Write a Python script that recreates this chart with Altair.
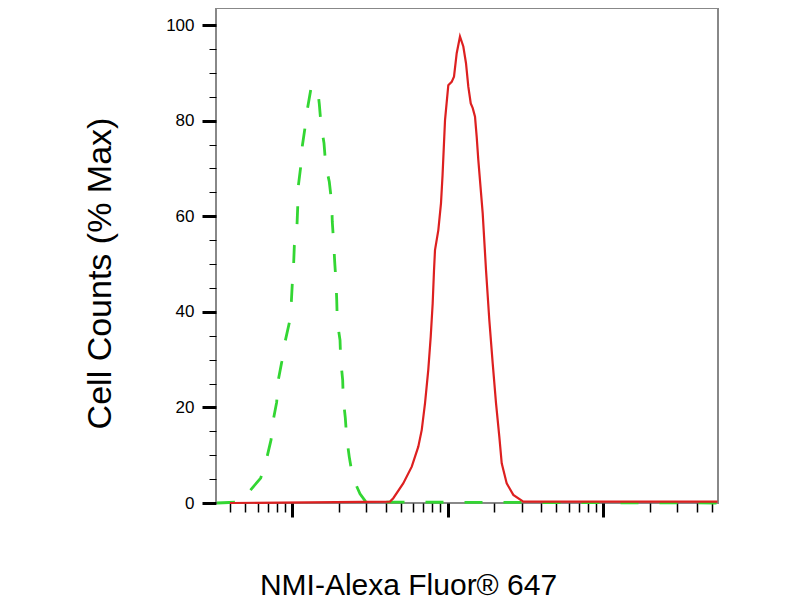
import altair as alt
import pandas as pd

# Isotype control (green dashed) - fluorescence intensity and % max
green_x = [3.29, 4.63, 5.21, 6.29, 6.88, 7.33, 7.58, 7.97, 8.16, 8.59, 9.02, 9.61, 9.90,
           10.04, 10.25, 10.35, 10.77, 10.88, 10.98, 11.37, 11.65, 12.12, 12.62, 13.19,
           13.85, 14.55, 14.98, 15.37, 16.06, 16.47, 17.37, 18.00, 18.16, 18.54, 18.82,
           19.19, 19.39, 19.56, 20.36, 20.57, 21.18, 21.37, 22.02, 22.48, 23.36, 24.57,
           27.37, 29.92, 5450]
green_y = [0, 0.2, 2.1, 5.2, 9.4, 13.2, 17.4, 21.1, 25.7, 29.5, 33.7, 37.7, 42.0,
           45.8, 50.2, 53.8, 58.2, 61.9, 66.3, 70.3, 74.7, 78.5, 82.8, 86.4,
           87.1, 87.2, 83.5, 79.1, 75.3, 70.7, 67.2, 62.8, 58.8, 54.4, 50.4,
           46.2, 42.5, 37.9, 34.1, 29.9, 25.7, 21.8, 17.8, 13.6, 9.6, 5.4,
           1.9, 0.2, 0]

# NMI stained sample (red solid)
red_x = [3.99, 42.7, 44.8, 51.9, 58.9, 64.9, 68.3, 71.7, 75.2, 78.0, 80.3, 81.9, 83.1,
         87.3, 90.8, 92.9, 96.4, 101.2, 106.4, 110.1, 114.6, 120.3, 126.4, 131.5,
         136.1, 141.1, 145.3, 150.3, 154.1, 157.8, 168.4, 176.9, 185.7, 195.3, 205.1,
         215.4, 223.2, 240.3, 265.0, 307.3, 5450]
red_y = [0, 0.3, 1.0, 4.1, 7.6, 11.8, 15.3, 20.9, 27.8, 34.8, 41.8, 48.7, 52.9,
         57.1, 62.7, 68.5, 80.1, 87.4, 88.1, 89.2, 94.1, 97.6, 95.5, 92.0,
         87.1, 83.6, 82.6, 80.8, 76.6, 71.8, 60.6, 48.7, 38.3, 29.2, 20.9,
         13.9, 8.3, 4.1, 1.7, 0.3, 0.3]

x_major = [10, 100, 1000]
x_minor = [4, 5, 6, 7, 8, 9, 20, 30, 40, 50, 60, 70, 80, 90,
           200, 300, 400, 500, 600, 700, 800, 900, 2000, 3000, 4000, 5000]
y_major = [0, 20, 40, 60, 80, 100]
y_minor = [5, 10, 15, 25, 30, 35, 45, 50, 55, 65, 70, 75, 85, 90, 95]

x_domain = [3.245, 5490]
y_domain = [0, 103.56]

green_df = pd.DataFrame({"x": green_x, "y": green_y})
red_df = pd.DataFrame({"x": red_x, "y": red_y})

FONT = "Liberation Sans"

green = alt.Chart(green_df).mark_line(
    color="#33d633", strokeWidth=2.8, strokeDash=[18, 21]
).encode(
    x=alt.X("x:Q",
            scale=alt.Scale(type="log", domain=x_domain, nice=False),
            axis=alt.Axis(values=x_major, labels=False, grid=False, domain=False,
                          tickSize=14, tickWidth=3, tickColor="black",
                          title="NMI-Alexa Fluor® 647", titleFont=FONT,
                          titleFontSize=30, titleFontWeight="normal",
                          titleColor="black", titleX=192, titleY=91,
                          titleBaseline="alphabetic")),
    y=alt.Y("y:Q",
            scale=alt.Scale(domain=y_domain, nice=False, zero=False),
            axis=alt.Axis(values=y_major, grid=False, domain=False,
                          tickSize=14, tickWidth=3, tickColor="black",
                          labelFont=FONT, labelFontSize=17, labelColor="black",
                          labelPadding=8,
                          title="Cell Counts (% Max)", titleFont=FONT,
                          titleFontSize=34, titleFontWeight="normal",
                          titleColor="black", titleX=-106, titleY=265,
                          titleBaseline="alphabetic")),
    order=alt.Order("x:Q"),
)

red = alt.Chart(red_df).mark_line(
    color="#dd2020", strokeWidth=2.2
).encode(
    x=alt.X("x:Q",
            scale=alt.Scale(type="log", domain=x_domain, nice=False),
            axis=alt.Axis(values=x_minor, labels=False, grid=False, domain=False,
                          tickSize=9, tickWidth=1.5, tickColor="black",
                          orient="bottom", title=None)),
    y=alt.Y("y:Q",
            scale=alt.Scale(domain=y_domain, nice=False, zero=False),
            axis=alt.Axis(values=y_minor, labels=False, grid=False, domain=False,
                          tickSize=7, tickWidth=1, tickColor="black",
                          orient="left", title=None)),
    order=alt.Order("x:Q"),
)

chart = alt.layer(green, red).resolve_scale(
    x="independent", y="independent"
).properties(
    width=502, height=495,
    autosize=alt.AutoSizeParams(type="none"),
    padding={"left": 208, "top": 0, "right": 60, "bottom": 97},
    background="white",
).configure_view(stroke="#888888", strokeWidth=2)

chart.save("out.html", embed_options={"renderer": "svg", "actions": False})
